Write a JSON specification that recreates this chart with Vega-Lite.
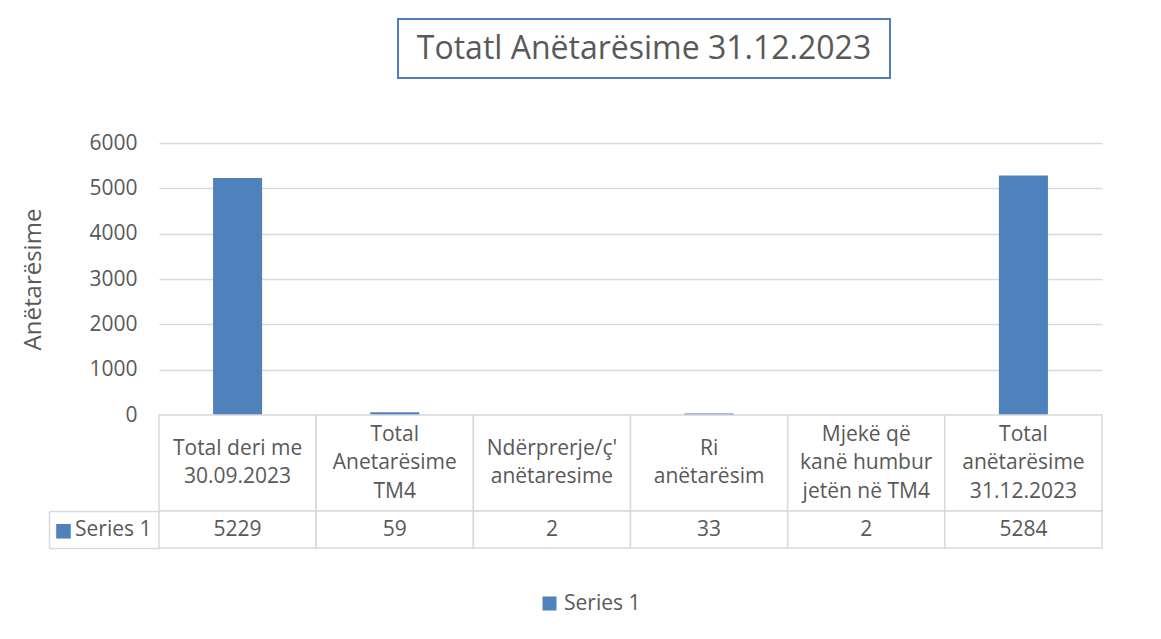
{
  "$schema": "https://vega.github.io/schema/vega-lite/v6.json",
  "background": "white",
  "padding": {"left": 21, "top": 18, "right": 0, "bottom": 5},
  "datasets": {
    "main": [
      {"category": "Total deri me\n30.09.2023", "value": 5229, "series": "Series 1"},
      {"category": "Total\nAnetarësime\nTM4", "value": 59, "series": "Series 1"},
      {"category": "Ndërprerje/ç'\nanëtaresime", "value": 2, "series": "Series 1"},
      {"category": "Ri\nanëtarësim", "value": 33, "series": "Series 1"},
      {"category": "Mjekë që\nkanë humbur\njetën në TM4", "value": 2, "series": "Series 1"},
      {"category": "Total\nanëtarësime\n31.12.2023", "value": 5284, "series": "Series 1"}
    ],
    "titles": [{"text": "Totatl Anëtarësime 31.12.2023"}]
  },
  "config": {
    "font": "Open Sans",
    "view": {"stroke": null},
    "legend": {"layout": {"bottom": {"anchor": "middle"}}}
  },
  "spacing": 53,
  "vconcat": [
    {
      "spacing": 0,
      "hconcat": [
        {"width": 238, "height": 59, "data": {"values": []}, "mark": "text"},
        {
          "width": 492, "height": 59,
          "view": {"stroke": "#4f7ec0", "strokeWidth": 2},
          "data": {"name": "titles"},
          "mark": {"type": "text", "fontSize": 32, "color": "#595959"},
          "encoding": {
            "text": {"field": "text"},
            "x": {"field": "text", "type": "nominal", "axis": null},
            "y": {"field": "text", "type": "nominal", "axis": null}
          }
        },
        {"width": 268, "height": 59, "data": {"values": []}, "mark": "text"}
      ]
    },
    {
      "spacing": 0,
      "bounds": "flush",
      "vconcat": [
        {
          "width": 943, "height": 272,
          "data": {"name": "main"},
          "mark": {"type": "bar", "width": {"band": 0.312}},
          "encoding": {
            "x": {"field": "category", "type": "nominal", "sort": null, "scale": {"paddingInner": 0, "paddingOuter": 0}, "axis": null},
            "y": {
              "field": "value", "type": "quantitative",
              "scale": {"domain": [0, 6000], "nice": false},
              "axis": {
                "title": "Anëtarësime", "values": [0, 1000, 2000, 3000, 4000, 5000, 6000], "format": "d",
                "grid": true, "gridColor": "#d9d9d9", "gridWidth": 1.5, "domain": false, "ticks": false,
                "labelPadding": 22, "labelFontSize": 21, "labelColor": "#595959",
                "titleFontSize": 24, "titleFontWeight": "normal", "titleColor": "#595959", "titlePadding": 43
              }
            },
            "color": {
              "field": "series", "type": "nominal",
              "scale": {"range": ["#4f81bd"]},
              "legend": {"orient": "bottom", "title": null, "symbolType": "square", "symbolSize": 196, "symbolStrokeWidth": 0, "labelFontSize": 21, "labelColor": "#595959", "offset": 44}
            }
          }
        },
        {
          "width": 943, "height": 96,
          "data": {"name": "main"},
          "encoding": {
            "x": {"field": "category", "type": "nominal", "sort": null, "scale": {"paddingInner": 0, "paddingOuter": 0}, "axis": null}
          },
          "layer": [
            {"mark": {"type": "rect", "fill": "white", "stroke": "#d9d9d9", "strokeWidth": 1.5}},
            {
              "mark": {"type": "text", "fontSize": 21, "color": "#595959", "lineBreak": "\n", "lineHeight": 28.5, "dy": {"expr": "-(length(split(datum.category, '\\n')) - 1) * 14.25"}},
              "encoding": {"text": {"field": "category"}}
            }
          ]
        },
        {
          "width": 943, "height": 37,
          "data": {"name": "main"},
          "encoding": {
            "x": {"field": "category", "type": "nominal", "sort": null, "scale": {"paddingInner": 0, "paddingOuter": 0}, "axis": null}
          },
          "layer": [
            {
              "mark": {"type": "rect", "fill": "white", "stroke": "#d9d9d9", "strokeWidth": 1.5},
              "encoding": {
                "y": {
                  "field": "series", "type": "nominal", "scale": {"paddingInner": 0, "paddingOuter": 0},
                  "axis": {"orient": "left", "title": null, "domain": false, "ticks": true, "tickBand": "extent", "tickSize": 110, "tickColor": "#d9d9d9", "tickWidth": 1.5, "labelPadding": -102, "labelFontSize": 21, "labelColor": "#595959", "grid": false}
                }
              }
            },
            {
              "mark": {"type": "text", "fontSize": 21, "color": "#595959"},
              "encoding": {
                "text": {"field": "value", "type": "quantitative", "format": "d"},
                "y": {
                  "field": "series", "type": "nominal",
                  "axis": {"orient": "left", "offset": 110, "title": null, "domain": true, "domainColor": "#d9d9d9", "domainWidth": 1.5, "ticks": false, "tickSize": 0, "labelExpr": "'■'", "labelFont": "DejaVu Sans", "labelFontSize": 19, "labelColor": "#4f81bd", "labelAlign": "left", "labelPadding": -5, "grid": false}
                }
              }
            }
          ],
          "resolve": {"axis": {"y": "independent"}}
        }
      ]
    }
  ]
}
